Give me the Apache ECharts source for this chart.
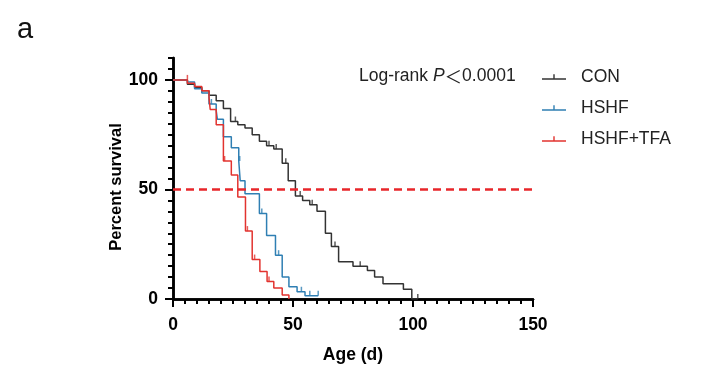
<!DOCTYPE html>
<html><head><meta charset="utf-8">
<script src="https://cdn.jsdelivr.net/npm/echarts@6/dist/echarts.min.js"></script>
<style>html,body{margin:0;padding:0;background:#fff}#c{width:706px;height:379px}</style>
</head><body><div id="c"></div>
<script>
const seriesNames = ['CON', 'HSHF', 'HSHF+TFA'];
const conDays = [0,6,9,12,15,18,21,24,27,30,33,36,39,42,45.5,48,51,54,57,60,63.5,66,69,75,81,84,87.5,96,99.5,102];
const conSurv = [100,98,96.5,95,93,90.5,87,81,79.5,78,75,72,70,68.5,62,54,47,45,43,40,30,24,17,15,13,10,7,4.5,0,0];
const hshfDays = [0,6,9,12,15,18,18.5,21,24.3,27.4,28,30,36,39,42.7,45.5,48.3,51.7,55,60.5];
const hshfSurv = [100,99,96,94,89,86,82,74,69,63,54,48,39,29,20,10,5.6,3.3,1.5,1.5];
const tfaDays = [0,6,9,12,15,15.5,18,21,24.3,27,30.2,33,36.2,39.2,42,45.5,48.3];
const tfaSurv = [100,98.5,97,95,92,86.5,79.5,63,56.6,46.5,31,18,12.5,8,5,1.8,0];
const conCensorDays = [26,40,43,47,53,58,67.5,78,102];
const conCensorSurv = [81,70,68.5,62,47,43,24,15,0];
const hshfCensorDays = [16,27.8,37,44,53.5,57,60.5];
const hshfCensorSurv = [89,63,39,20,3.3,1.5,1.5];
const tfaCensorDays = [6,21.5,31,34,40];
const tfaCensorSurv = [100,63,31,18,8];
const xMajorTicks = [0,50,100,150];
const yMajorTicks = [0,50,100];
const medianLine = 50;
const pText = '0.0001';

const colors = ['#333333', '#2f7fb3', '#e2332f'];
const FONT = 'Arial, "Liberation Sans", Helvetica, sans-serif';
const zip = (a, b) => a.map((v, i) => [v, b[i]]);
const tickIcon = 'path://M0,5h24v1.4h-24z M11.3,1h1.4v4h-1.4z';

function stepSeries(name, d, s, color, extra) {
  return Object.assign({
    name, type: 'line', step: 'end', data: zip(d, s), symbol: 'none',
    lineStyle: { color, width: 1.5 }, itemStyle: { color }, z: 3, animation: false
  }, extra || {});
}
function censorSeries(name, d, s, color) {
  return {
    name, type: 'scatter', data: zip(d, s), symbol: 'rect', symbolSize: [1.5, 5],
    symbolOffset: [0, -2.5], itemStyle: { color }, z: 4, animation: false, silent: true
  };
}

const chart = echarts.init(document.getElementById('c'), null, { renderer: 'canvas' });
chart.setOption({
  backgroundColor: '#fff',
  animation: false,
  textStyle: { fontFamily: FONT },
  grid: { left: 173, right: 173, top: 58, bottom: 80, containLabel: false },
  xAxis: [
    { type: 'value', min: 0, max: 150, interval: 5,
      axisLine: { show: true, onZero: false, lineStyle: { color: '#000', width: 2.5 } },
      axisTick: { show: true, length: 5, lineStyle: { color: '#000', width: 2 } },
      axisLabel: { show: false }, splitLine: { show: false } },
    { type: 'value', min: 0, max: 150, interval: 50, position: 'bottom',
      name: 'Age (d)', nameLocation: 'middle', nameGap: 47,
      nameTextStyle: { fontSize: 17.5, fontWeight: 'bold', color: '#000', fontFamily: FONT },
      axisLine: { show: true, onZero: false, lineStyle: { color: '#000', width: 2.5 } },
      axisTick: { show: true, length: 8, lineStyle: { color: '#000', width: 2 } },
      axisLabel: { show: true, margin: 17, fontSize: 17.5, fontWeight: 'bold', color: '#000', fontFamily: FONT,
        formatter: v => xMajorTicks.includes(v) ? String(v) : '' },
      splitLine: { show: false } }
  ],
  yAxis: [
    { type: 'value', min: 0, max: 110, interval: 5,
      axisLine: { show: true, onZero: false, lineStyle: { color: '#000', width: 2.5 } },
      axisTick: { show: true, length: 5, lineStyle: { color: '#000', width: 2 } },
      axisLabel: { show: false }, splitLine: { show: false } },
    { type: 'value', min: 0, max: 110, interval: 50, position: 'left',
      axisLine: { show: true, onZero: false, lineStyle: { color: '#000', width: 2.5 } },
      axisTick: { show: true, length: 8, lineStyle: { color: '#000', width: 2 } },
      axisLabel: { show: true, margin: 15, fontSize: 17.5, fontWeight: 'bold', color: '#000', fontFamily: FONT,
        showMaxLabel: false, formatter: v => yMajorTicks.includes(v) ? String(v) : '' },
      splitLine: { show: false } }
  ],
  legend: {
    orient: 'vertical', left: 537, top: 63, itemWidth: 24, itemHeight: 7, itemGap: 13,
    data: seriesNames.map(n => ({ name: n, icon: tickIcon })),
    textStyle: { fontSize: 17.5, color: '#222', fontFamily: FONT, padding: [0, 0, 0, 10] },
    selectedMode: false
  },
  graphic: [
    { type: 'text', left: 17, top: 15, style: { text: 'a', font: '29px ' + FONT, fill: '#111' } },
    { type: 'text', x: 116, y: 187, rotation: Math.PI / 2, style: {
        text: 'Percent survival', font: 'bold 16.5px ' + FONT, fill: '#000', align: 'center', verticalAlign: 'middle' } },
    { type: 'text', left: 359, top: 67, style: {
        text: 'Log-rank {i|P}{f|＜}' + pText, fill: '#222', font: '17.5px ' + FONT,
        rich: {
          i: { fontStyle: 'italic', fontSize: 17.5, fontFamily: FONT, fill: '#222' },
          f: { fontSize: 17.5, fontFamily: '"Noto Sans CJK SC", sans-serif', fill: '#222' }
        } } }
  ],
  series: [
    stepSeries('CON', conDays, conSurv, colors[0], {
      markLine: { silent: true, symbol: 'none', label: { show: false },
        lineStyle: { color: '#e8262a', type: [8, 5], width: 2.5 },
        data: [{ yAxis: medianLine }] } }),
    stepSeries('HSHF', hshfDays, hshfSurv, colors[1]),
    stepSeries('HSHF+TFA', tfaDays, tfaSurv, colors[2]),
    censorSeries('CON-c', conCensorDays, conCensorSurv, colors[0]),
    censorSeries('HSHF-c', hshfCensorDays, hshfCensorSurv, colors[1]),
    censorSeries('TFA-c', tfaCensorDays, tfaCensorSurv, colors[2])
  ]
});
</script></body></html>
